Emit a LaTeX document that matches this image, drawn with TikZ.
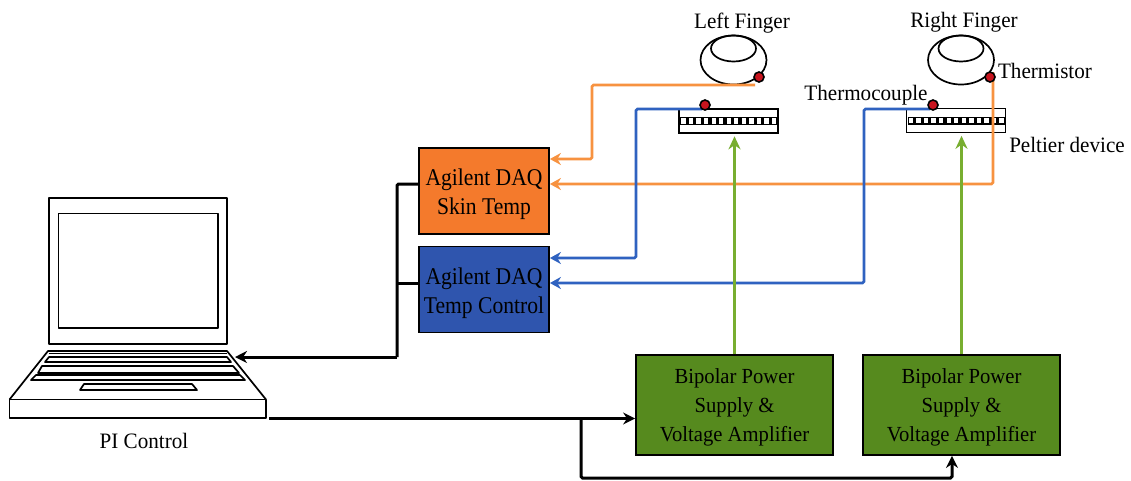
\documentclass[tikz,border=0pt]{standalone}
\usepackage{fontspec}
\setmainfont{Liberation Serif}
\newfontfamily\boxfont[FakeStretch=0.9]{Liberation Serif}
\newfontfamily\lblfont[FakeStretch=0.96]{Liberation Serif}
\usetikzlibrary{arrows.meta}
\definecolor{boxorange}{HTML}{F47A2C}
\definecolor{boxblue}{HTML}{2F55AE}
\definecolor{boxgreen}{HTML}{568A1E}
\definecolor{wireorange}{HTML}{F79240}
\definecolor{wireblue}{HTML}{2F62C0}
\definecolor{wiregreen}{HTML}{78AE30}
\definecolor{dotred}{HTML}{C8141E}
\tikzset{
  x=1pt,y=-1pt,
  lbl/.style={font=\lblfont\fontsize{22}{24}\selectfont,inner sep=0pt,align=center,text=black},
  boxlbl/.style={draw=black,line width=1.8pt,inner sep=0pt,align=center,font=\boxfont\fontsize{24}{29}\selectfont},
  pwr/.style={boxlbl,fill=boxgreen,minimum width=197pt,minimum height=100pt,font=\lblfont\fontsize{21.5}{29}\selectfont},
  daq/.style={boxlbl,minimum width=130pt,minimum height=86pt},
  wire/.style={line width=2.6pt,rounded corners=1.5pt},
  blackwire/.style={wire,line width=3pt,draw=black},
  owire/.style={wire,draw=wireorange,-{Stealth[length=11pt,width=12pt]}},
  bwire/.style={wire,draw=wireblue,-{Stealth[length=11pt,width=12pt]}},
  gwire/.style={line width=2.8pt,draw=wiregreen,-{Stealth[length=13pt,width=12pt]}},
  karrow/.style={blackwire,-{Stealth[length=12pt,width=12pt]}},
  sensor/.style={circle,draw=black,fill=dotred,line width=1.6pt,minimum size=10pt,inner sep=0pt},
  outl/.style={draw=black,line width=1.7pt,line join=round},
  pelt/.style={draw=black,fill=white,line width=1.6pt,minimum width=99pt,minimum height=24pt,inner sep=0pt},
}
\newcommand{\fingershape}[1]{%
  \draw[outl] (#1,60) ellipse [x radius=33,y radius=24.5];
  \draw[outl] (#1,48.5) ellipse [x radius=22.5,y radius=13];
}
\newcommand{\peltband}[2]{%
  \fill[black] (#1+1,#2+8) rectangle (#1+98,#2+16);
  \foreach \k in {0,...,12}{\fill[white] (#1+2.3+7.55*\k,#2+9.3) rectangle (#1+6.6+7.55*\k,#2+14.7);}
}
\begin{document}
\begin{tikzpicture}
\useasboundingbox (0,0) rectangle (1131,480);
\fill[white] (0,0) rectangle (1131,480);

% boxes
\node[daq,fill=boxorange] (daqs) at (484,191) {\rule{0pt}{24pt}Agilent DAQ\\Skin Temp};
\node[daq,fill=boxblue]   (daqt) at (484,289.5) {\rule{0pt}{24pt}Agilent DAQ\\Temp Control};
\node[pwr] (ampa) at (734.5,405) {\rule{0pt}{20pt}Bipolar Power\\Supply \&\\Voltage Amplifier};
\node[pwr] (ampb) at (961.5,405) {\rule{0pt}{20pt}Bipolar Power\\Supply \&\\Voltage Amplifier};

% peltier devices
\node[pelt] (pelta) at (728.5,121) {};
\node[pelt] (peltb) at (956,120.5) {};
\peltband{679}{109}
\peltband{906.5}{108.5}

% fingers
\fingershape{733.5}
\fingershape{961}

% labels
\node[lbl] (lf) at (742,23) {Left Finger};
\node[lbl] (rf) at (964,22) {Right Finger};
\node[lbl] (tm) at (1045,71) {Thermistor};
\node[lbl] (tc) at (866,95) {Thermocouple};
\node[lbl] (pd) at (1067,145) {Peltier device};
\node[lbl] (pi) at (144,441) {PI Control};

% sensor dots
\coordinate (lfw) at (755,85);
\coordinate (rfw) at (993,72);
\coordinate (tcaw) at (702,109);
\coordinate (tcbw) at (930,109);
\coordinate (js1) at (592,85);
\coordinate (j2) at (636,109);
\coordinate (j3) at (864,109);

% orange wires
\draw[owire] (lfw) -- (js1) |- ([yshift=32pt]daqs.east);
\draw[owire] (rfw) |- ([yshift=7pt]daqs.east);
% blue wires
\draw[bwire] (tcaw) -- (j2) |- ([yshift=31.5pt]daqt.east);
\draw[bwire] (tcbw) -- (j3) |- ([yshift=6.5pt]daqt.east);

\node[sensor] (sl) at (759,77) {};
\node[sensor] (sr) at (990,77) {};
\node[sensor] (ta) at (705,105) {};
\node[sensor] (tb) at (933,105) {};

% green arrows
\draw[gwire] (ampa.north) -- ([yshift=-2.5pt]pelta.south -| ampa.north);
\draw[gwire] (ampb.north) -- ([yshift=-2.5pt]peltb.south -| ampb.north);

% laptop
\draw[outl,fill=white] (49,198) rectangle (227,344);
\draw[outl] (58.5,213.5) rectangle (218,328);
\draw[outl] (9.5,399.5) rectangle (266,418);
\draw[outl] (9.5,399.5) -- (48,351) -- (227,351) -- (266,399.5);
\draw[outl] (48.5,353.5) -- (226.5,353.5);
\draw[outl] (49,357) -- (227,357) -- (231,362) -- (45,362) -- cycle;
\draw[outl] (42,366) -- (233,366) -- (239,373) -- (38,373) -- cycle;
\draw[outl] (36,375) -- (240,375) -- (245,380) -- (31,380) -- cycle;
\draw[outl] (84,384) -- (192,384) -- (197,390) -- (80,390) -- cycle;
\coordinate (lapin) at (235,357);
\coordinate (lapout) at (269,418.5);

% black wires
\coordinate (bus) at (397,357);
\draw[blackwire] ([yshift=7pt]daqs.west) -| (bus);
\draw[blackwire] ([yshift=6.5pt]daqt.west) -- ([yshift=6.5pt]daqt.west -| bus);
\draw[karrow] (bus) -- (lapin);
\draw[karrow] (lapout) -- (ampa.west |- lapout);
\coordinate (tee) at (581,418.5);
\draw[karrow] (tee) |- (952,478) -- ([xshift=-9.5pt]ampb.south);
\end{tikzpicture}
\end{document}
